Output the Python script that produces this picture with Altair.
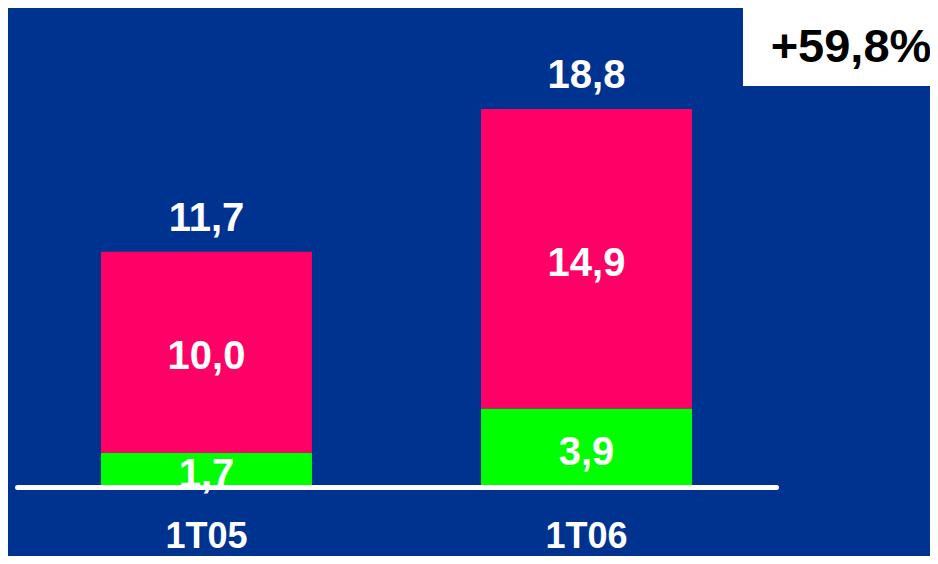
import altair as alt
import pandas as pd

categories = ["1T05", "1T06"]
green_vals = [1.7, 3.9]
pink_vals = [10.0, 14.9]
totals = [11.7, 18.8]
growth_label = "+59,8%"

segments = ["verde", "rosa"]
seg_colors = ["#00FF00", "#FF0066"]

rows = []
for i, c in enumerate(categories):
    rows.append({"cat": c, "seg": "verde", "ord": 0, "value": green_vals[i]})
    rows.append({"cat": c, "seg": "rosa", "ord": 1, "value": pink_vals[i]})
df = pd.DataFrame(rows)
df_tot = pd.DataFrame({"cat": categories, "total": totals})
df_box = pd.DataFrame({"label": [growth_label]})

FONT = "Liberation Sans"

xscale = alt.Scale(domain=categories, paddingInner=0.4447, paddingOuter=0.2209)
yscale = alt.Scale(domain=[0, 23.83], nice=False, zero=True)

x_enc = alt.X("cat:N", scale=xscale, sort=categories, title=None,
              axis=alt.Axis(labelAngle=0, labelColor="white", labelFont=FONT,
                            labelFontSize=36, labelFontWeight="bold",
                            labelBaseline="alphabetic", labelPadding=60,
                            ticks=False, tickSize=0, domainColor="white",
                            domainWidth=5, domainCap="round", grid=False,
                            zindex=1))

bars = alt.Chart(df).mark_bar(size=211).encode(
    x=x_enc,
    y=alt.Y("value:Q", scale=yscale, axis=None, stack="zero"),
    color=alt.Color("seg:N", scale=alt.Scale(domain=segments, range=seg_colors), legend=None),
    order=alt.Order("ord:Q"),
)

seg_labels = alt.Chart(df).transform_stack(
    stack="value", groupby=["cat"], as_=["v0", "v1"], sort=[alt.SortField("ord")]
).transform_calculate(
    mid="(datum.v0 + datum.v1) / 2",
    txt="replace(format(datum.value, '.1f'), '.', ',')",
).mark_text(color="white", font=FONT, fontSize=40, fontWeight="bold",
            baseline="middle", dy=5).encode(
    x=alt.X("cat:N", scale=xscale, sort=categories),
    y=alt.Y("mid:Q", scale=yscale),
    text="txt:N",
)

tot_labels = alt.Chart(df_tot).transform_calculate(
    txt="replace(format(datum.total, '.1f'), '.', ',')"
).mark_text(color="white", font=FONT, fontSize=40, fontWeight="bold",
            baseline="alphabetic", dy=-21).encode(
    x=alt.X("cat:N", scale=xscale, sort=categories),
    y=alt.Y("total:Q", scale=yscale),
    text="txt:N",
)

box = alt.Chart(df_box).mark_rect(color="white").encode(
    x=alt.value(726), x2=alt.value(930), y=alt.value(0), y2=alt.value(78)
)
box_text = alt.Chart(df_box).mark_text(color="black", font=FONT, fontSize=47,
                                       fontWeight="bold", baseline="middle",
                                       align="center").encode(
    x=alt.value(834), y=alt.value(40), text="label:N"
)

chart = alt.layer(bars, seg_labels, tot_labels, box, box_text).properties(
    width=759, height=479,
    padding={"left": 9, "top": 0, "right": 154, "bottom": 69},
    autosize="none",
).configure(background="#003390").configure_view(strokeWidth=0)

chart.save("out.html", embed_options={"renderer": "svg", "actions": False})
